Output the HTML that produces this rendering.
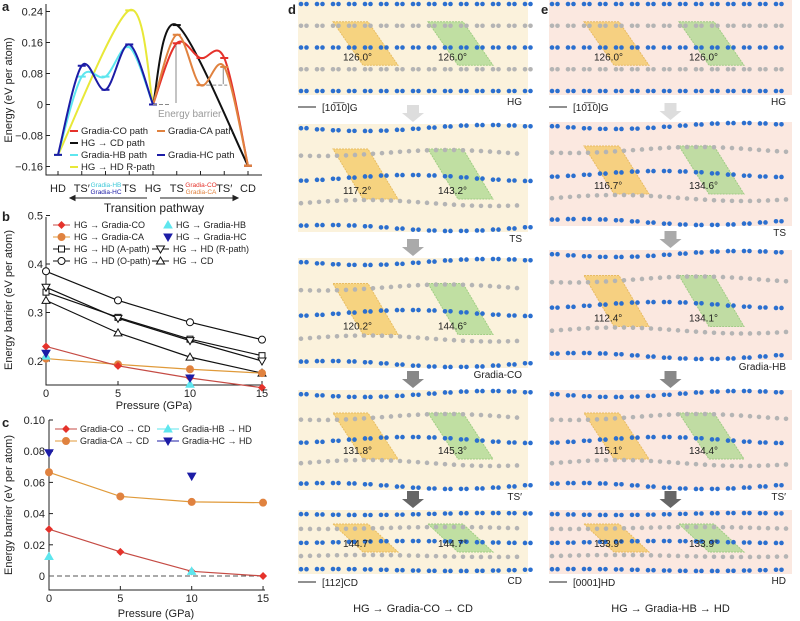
<!DOCTYPE html>
<html><head><meta charset="utf-8"><style>
html,body{margin:0;padding:0;background:#fff}
body{width:800px;height:621px;overflow:hidden;position:relative;font-family:"Liberation Sans",sans-serif}
svg{position:absolute;left:0;top:0}
text{font-family:"Liberation Sans",sans-serif}
</style></head><body>
<svg id="fig" width="800" height="621" viewBox="0 0 800 621"></svg>
<script>
// ---- Panel a data ----
const aCats=['HD','TS\u2032','','TS','HG','TS','','TS\u2032','CD'];
const aNames=['Gradia-CO path','Gradia-CA path','HG \u2192 CD path','Gradia-HB path','Gradia-HC path','HG \u2192 HD R-path'];
const aIdx=[[4,5,6,7,8],[4,5,6,7,8],[4,5,8],[0,1,2,3,4],[0,1,2,3,4],[0,3,4]];
const aVals=[[0,0.158,0.12,0.12,-0.158],[0,0.18,0.05,0.097,-0.158],[0,0.205,-0.158],[-0.13,0.072,0.072,0.148,0],[-0.13,0.1,0.038,0.155,0],[-0.13,0.243,0]];
const aCols=['#e5322b','#e0823f','#111','#5ee6ee','#1c1ca6','#e8e838'];
const aTicks=[0.24,0.16,0.08,0,-0.08,-0.16];
// ---- Panel b data ----
const pres=[0,5,10,15];
const bNames=['HG \u2192 Gradia-CO','HG \u2192 Gradia-CA','HG \u2192 HD (A-path)','HG \u2192 HD (O-path)','HG \u2192 HD (R-path)','HG \u2192 CD'];
const bVals=[[0.23,0.19,0.165,0.145],[0.205,0.193,0.183,0.175],[0.342,0.29,0.245,0.211],[0.385,0.325,0.28,0.244],[0.352,0.288,0.242,0.2],[0.325,0.258,0.208,0.175]];
const bHB=[0.21,null,0.152,null];
const bHC=[0.216,null,0.165,null];
const bTicks=[0.5,0.4,0.3,0.2];
// ---- Panel c data ----
const cNames=['Gradia-CO \u2192 CD','Gradia-CA \u2192 CD','Gradia-HB \u2192 HD','Gradia-HC \u2192 HD'];
const cCO=[0.03,0.0155,0.003,0];
const cCA=[0.0665,0.051,0.0475,0.047];
const cHB=[0.0125,null,0.003,null];
const cHC=[0.079,null,0.064,null];
const cTicks=[0.1,0.08,0.06,0.04,0.02,0];

const S=document.getElementById('fig');const NS='http://www.w3.org/2000/svg';
function el(t,a,p){const e=document.createElementNS(NS,t);for(const k in a)e.setAttribute(k,a[k]);(p||S).appendChild(e);return e;}
function tx(x,y,s,o){const e=el('text',Object.assign({x:x,y:y,'font-size':11,fill:'#222'},o||{}));e.textContent=s;return e;}
function smooth(pts){let d='M'+pts[0][0]+','+pts[0][1];for(let i=0;i<pts.length-1;i++){const p0=pts[i-1]||pts[i],p1=pts[i],p2=pts[i+1],p3=pts[i+2]||p2;d+=' C'+(p1[0]+(p2[0]-p0[0])/6)+','+(p1[1]+(p2[1]-p0[1])/6)+' '+(p2[0]-(p3[0]-p1[0])/6)+','+(p2[1]-(p3[1]-p1[1])/6)+' '+p2[0]+','+p2[1];}return d;}
function marker(g,type,x,y,c){let m;
 if(type==='diamond')m=el('polygon',{points:`${x},${y-4} ${x+4},${y} ${x},${y+4} ${x-4},${y}`,fill:c},g);
 else if(type==='circle')m=el('circle',{cx:x,cy:y,r:3.5,fill:c,stroke:c==='#fff'?'#111':c},g);
 else if(type==='square')m=el('rect',{x:x-3,y:y-3,width:6,height:6,fill:'#fff',stroke:'#111'},g);
 else if(type==='tri')m=el('polygon',{points:`${x},${y-4} ${x+4},${y+3} ${x-4},${y+3}`,fill:c,stroke:c==='#fff'?'#111':c},g);
 else m=el('polygon',{points:`${x},${y+4} ${x+4},${y-3} ${x-4},${y-3}`,fill:c,stroke:c==='#fff'?'#111':c},g);
 return m;}

// ===== Panel a =====
(function(){const g=el('g',{});
 const ax=i=>58+i*23.75, ay=v=>104.5-v/0.08*31;
 tx(2,11,'a',{'font-weight':'bold','font-size':13,});
 el('path',{d:'M46,4 V175 H262','stroke':'#222',fill:'none',},g);
 aTicks.forEach(t=>{el('line',{x1:46,x2:50,y1:ay(t),y2:ay(t),stroke:'#222'},g);const e=tx(43,ay(t)+4,t===0?'0':(t<0?'\u2212'+(-t).toFixed(2):t.toFixed(2)),{'text-anchor':'end'});});
 aCats.forEach((c,i)=>{el('line',{x1:ax(i),x2:ax(i),y1:175,y2:171,stroke:'#222'},g);if(c)tx(ax(i),192,c,{'text-anchor':'middle',});});
 tx(106,187,'Gradia-HB',{'text-anchor':'middle','font-size':6.5,fill:'#3cc8d8'});tx(106,194,'Gradia-HC',{'text-anchor':'middle','font-size':6.5,fill:'#1c1ca6'});
 tx(201,187,'Gradia-CO',{'text-anchor':'middle','font-size':6.5,fill:'#e5322b'});tx(201,194,'Gradia-CA',{'text-anchor':'middle','font-size':6.5,fill:'#e0823f'});
 el('path',{d:'M147,198 H70 M70,198 l5,-2.5 v5 z M160,198 H238 M238,198 l-5,-2.5 v5 z',stroke:'#222',fill:'#222'},g);
 tx(154,212,'Transition pathway',{'text-anchor':'middle','font-size':12,});
 tx(12,90,'Energy (eV per atom)',{'text-anchor':'middle','font-size':11,transform:'rotate(-90 12 90)',});
 [5,2,0,1,3,4].forEach(k=>{const pts=aIdx[k].map((i,j)=>[ax(i),ay(aVals[k][j])]);const p=el('path',{d:smooth(pts),stroke:aCols[k],'stroke-width':2,fill:'none'},g);
  aIdx[k].forEach((i,j)=>el('line',{x1:ax(i)-4,x2:ax(i)+4,y1:ay(aVals[k][j]),y2:ay(aVals[k][j]),stroke:aCols[k],'stroke-width':2},g));});
 el('path',{d:`M${ax(4)},104.5 H170 M${ax(7)-18},${ay(0.05)} H${ax(7)+3}`,stroke:'#888','stroke-dasharray':'4,2'},g);
 el('path',{d:`M176,103 V${ay(0.158)+2} M${ax(7)-1},${ay(0.05)-1} V${ay(0.097)+1}`,stroke:'#888'},g);
 tx(158,117,'Energy barrier',{fill:'#999','font-size':10});
 const L=[[0,70,134],[1,157,134],[2,70,146],[3,70,158],[4,157,158],[5,70,170]];
 L.forEach(([k,x,y])=>{el('line',{x1:x,x2:x+8,y1:y-3,y2:y-3,stroke:aCols[k],'stroke-width':2},g);const t=tx(x+11,y,aNames[k],{'font-size':9.5});});
})();

// ===== Panel b =====
(function(){const g=el('g',{});
 const bx=p=>46+p*14.4, by=v=>361-(v-0.2)*485;
 tx(2,221,'b',{'font-weight':'bold','font-size':13});
 el('path',{d:'M46,217 V385 H263',stroke:'#222',fill:'none'},g);
 bTicks.forEach(t=>{el('line',{x1:46,x2:50,y1:by(t),y2:by(t),stroke:'#222'},g);tx(43,by(t)+4,t.toFixed(1),{'text-anchor':'end'});});
 pres.forEach(p=>{el('line',{x1:bx(p),x2:bx(p),y1:385,y2:381,stroke:'#222'},g);tx(bx(p),397,p,{'text-anchor':'middle'});});
 tx(154,409,'Pressure (GPa)',{'text-anchor':'middle','font-size':11});
 tx(12,300,'Energy barrier (eV per atom)',{'text-anchor':'middle',transform:'rotate(-90 12 300)'});
 const lc=['#c54b44','#e09a3a','#111','#111','#111','#111'],mk=['diamond','circle','square','circle','inv','tri'],fc=['#e5322b','#e0823f','#fff','#fff','#fff','#fff'];
 [2,3,4,5,1,0].forEach(k=>{const p=el('polyline',{points:pres.map((q,i)=>bx(q)+','+by(bVals[k][i])).join(' '),stroke:lc[k],fill:'none','stroke-width':1.2},g);pres.forEach((q,i)=>marker(g,mk[k],bx(q),by(bVals[k][i]),fc[k]));});
 pres.forEach((q,i)=>{if(bHB[i]!=null)marker(g,'tri',bx(q),by(bHB[i]),'#5ee6ee');if(bHC[i]!=null)marker(g,'inv',bx(q),by(bHC[i]),'#1c1ca6');});
 const L=[[0,53,228],[1,53,240],[2,53,252],[3,53,264],[4,152,252],[5,152,264]];
 L.forEach(([k,x,y])=>{el('line',{x1:x,x2:x+17,y1:y-3,y2:y-3,stroke:lc[k]},g);marker(g,mk[k],x+8.5,y-3,fc[k]);const t=tx(x+21,y,bNames[k],{'font-size':9});});
 marker(g,'tri',168,225,'#5ee6ee');tx(176,228,'HG \u2192 Gradia-HB',{'font-size':9});marker(g,'inv',168,237,'#1c1ca6');tx(176,240,'HG \u2192 Gradia-HC',{'font-size':9});
})();

// ===== Panel c =====
(function(){const g=el('g',{});
 const cx=p=>49+p*14.27, cy=v=>576-v*1560;
 tx(2,427,'c',{'font-weight':'bold','font-size':13});
 el('path',{d:'M49,420 V590 H265',stroke:'#222',fill:'none'},g);
 cTicks.forEach(t=>{el('line',{x1:49,x2:53,y1:cy(t),y2:cy(t),stroke:'#222'},g);tx(45,cy(t)+4,t===0?'0':t.toFixed(2),{'text-anchor':'end'});});
 pres.forEach(p=>{el('line',{x1:cx(p),x2:cx(p),y1:590,y2:586,stroke:'#222'},g);tx(cx(p),602,p,{'text-anchor':'middle'});});
 tx(156,617,'Pressure (GPa)',{'text-anchor':'middle'});
 tx(12,505,'Energy barrier (eV per atom)',{'text-anchor':'middle',transform:'rotate(-90 12 505)'});
 el('line',{x1:49,x2:263,y1:cy(0),y2:cy(0),stroke:'#555','stroke-dasharray':'5,3'},g);
 const s1=el('polyline',{points:pres.map((q,i)=>cx(q)+','+cy(cCA[i])).join(' '),stroke:'#e09a3a',fill:'none','stroke-width':1.2},g);
 const s2=el('polyline',{points:pres.map((q,i)=>cx(q)+','+cy(cCO[i])).join(' '),stroke:'#c54b44',fill:'none','stroke-width':1.2},g);
 pres.forEach((q,i)=>{marker(g,'circle',cx(q),cy(cCA[i]),'#e0823f');marker(g,'diamond',cx(q),cy(cCO[i]),'#e5322b');
  if(cHB[i]!=null)marker(g,'tri',cx(q),cy(cHB[i]),'#5ee6ee');if(cHC[i]!=null)marker(g,'inv',cx(q),cy(cHC[i]),'#1c1ca6');});
 [[0,55,432,'diamond','#e5322b','#c54b44'],[1,55,444,'circle','#e0823f','#e09a3a'],[2,157,432,'tri','#5ee6ee','#5ee6ee'],[3,157,444,'inv','#1c1ca6','#1c1ca6']].forEach(([k,x,y,m,c,l])=>{el('line',{x1:x,x2:x+22,y1:y-3,y2:y-3,stroke:l},g);marker(g,m,x+11,y-3,c);const t=tx(x+25,y,cNames[k],{'font-size':9});});
})();

// ===== Panels d, e (structures) =====
function structPanel(x0,w,fill,boxes,bottom,axisLbl){
 const g=el('g',{});
 boxes.forEach((b,bi)=>{const [y0,h,lbl,a1,a2]=b;
  el('rect',{x:x0,y:y0,width:w,height:h,fill:fill},g);
  const rows=5,sp=(h-8)/(rows-1),wav=bi===0?0:(bi===4?1:3);
  el('polygon',{points:`${x0+35},${y0+sp} ${x0+70},${y0+sp} ${x0+100},${y0+3*sp} ${x0+65},${y0+3*sp}`,fill:'#f5c75a',opacity:0.7,stroke:'#e0a830','stroke-dasharray':'2,1'},g);
  el('polygon',{points:`${x0+130},${y0+sp} ${x0+165},${y0+sp} ${x0+195},${y0+3*sp} ${x0+160},${y0+3*sp}`,fill:'#a8d88a',opacity:0.7,stroke:'#7cc060','stroke-dasharray':'2,1'},g);
  for(let r=0;r<rows;r++){const y=y0+4+r*sp,blue=r%2===0;
   for(let x=x0+3;x<x0+w-2;x+=(bi>0&&!blue?9:16)){const yy=y+wav*Math.sin((x-x0)/40+r);
    el('circle',{cx:x,cy:yy,r:2.3,fill:blue?'#2b6fcf':'#b4b4b4'},g);if(bi===0||blue)el('circle',{cx:x+5.5,cy:yy,r:2.3,fill:blue?'#2b6fcf':'#b4b4b4'},g);}}
  tx(x0+45,y0+3*sp-5,a1,{'font-size':10});tx(x0+140,y0+3*sp-5,a2,{'font-size':10});
  tx(x0+w-6,y0+h+10,lbl,{'text-anchor':'end','font-size':10});
  if(bi<4){const nextY=boxes[bi+1][0],ay=nextY-19,cxm=x0+w/2,c=['#ddd','#aaa','#888','#666'][bi];
   el('polygon',{points:`${cxm-6},${ay} ${cxm+6},${ay} ${cxm+6},${ay+8} ${cxm+11},${ay+8} ${cxm},${ay+17} ${cxm-11},${ay+8} ${cxm-6},${ay+8}`,fill:c,},g);}
 });
 el('line',{x1:x0,x2:x0+18,y1:107,y2:107,stroke:'#222'},g);tx(x0+24,111,'[10\u03051\u03050]G',{'font-size':10});
 el('line',{x1:x0,x2:x0+18,y1:582,y2:582,stroke:'#222'},g);tx(x0+24,586,axisLbl,{'font-size':10});
 tx(x0+w/2,612,bottom,{'text-anchor':'middle','font-size':11});
}
tx(288,14,'d',{'font-weight':'bold','font-size':13});tx(541,14,'e',{'font-weight':'bold','font-size':13});
structPanel(298,230,'#fbf2dc',[[0,95,'HG','126.0\u00b0','126.0\u00b0'],[124,108,'TS','117.2\u00b0','143.2\u00b0'],[258,110,'Gradia-CO','120.2\u00b0','144.6\u00b0'],[390,100,'TS\u2032','131.8\u00b0','145.3\u00b0'],[510,64,'CD','144.7\u00b0','144.7\u00b0']],'HG \u2192 Gradia-CO \u2192 CD','[112]CD');
structPanel(549,243,'#fbe8e0',[[0,95,'HG','126.0\u00b0','126.0\u00b0'],[122,104,'TS','116.7\u00b0','134.6\u00b0'],[250,110,'Gradia-HB','112.4\u00b0','134.1\u00b0'],[390,100,'TS\u2032','115.1\u00b0','134.4\u00b0'],[510,64,'HD','133.9\u00b0','133.9\u00b0']],'HG \u2192 Gradia-HB \u2192 HD','[0001]HD');
</script>
</body></html>
